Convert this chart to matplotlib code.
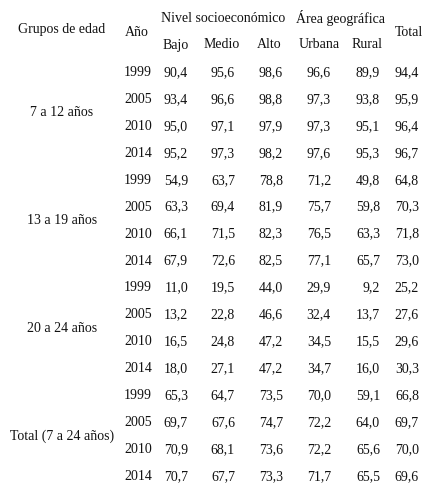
import matplotlib
matplotlib.use("Agg")
import matplotlib.pyplot as plt

groups = ["7 a 12 años", "13 a 19 años", "20 a 24 años", "Total (7 a 24 años)"]
years = ["1999", "2005", "2010", "2014"]
bajo = ["90,4","93,4","95,0","95,2","54,9","63,3","66,1","67,9","11,0","13,2","16,5","18,0","65,3","69,7","70,9","70,7"]
medio = ["95,6","96,6","97,1","97,3","63,7","69,4","71,5","72,6","19,5","22,8","24,8","27,1","64,7","67,6","68,1","67,7"]
alto = ["98,6","98,8","97,9","98,2","78,8","81,9","82,3","82,5","44,0","46,6","47,2","47,2","73,5","74,7","73,6","73,3"]
urbana = ["96,6","97,3","97,3","97,6","71,2","75,7","76,5","77,1","29,9","32,4","34,5","34,7","70,0","72,2","72,2","71,7"]
rural = ["89,9","93,8","95,1","95,3","49,8","59,8","63,3","65,7","9,2","13,7","15,5","16,0","59,1","64,0","65,6","65,5"]
total = ["94,4","95,9","96,4","96,7","64,8","70,3","71,8","73,0","25,2","27,6","29,6","30,3","66,8","69,7","70,0","69,6"]

W, H = 431, 494
fig = plt.figure(figsize=(W/100, H/100), dpi=100)
FONT = dict(family="Liberation Serif", fontsize=10, color="#111111")

def t(x, y, s, ha="center"):
    fig.text(x/W, 1 - y/H, s, ha=ha, va="center", **FONT)

t(62, 30, "Grupos de edad")
t(137, 32, "Año")
t(223, 18, "Nivel socioeconómico")
t(341, 18, "Área geográfica")
t(409, 32, "Total")
for x, s in [(176, "Bajo"), (222, "Medio"), (269, "Alto"), (319, "Urbana"), (367, "Rural")]:
    t(x, 45, s)

y0, dy = 72.5, 26.93
cols = [(188, bajo), (235, medio), (283, alto), (331, urbana), (380, rural), (419, total)]
for i in range(16):
    y = y0 + i*dy
    t(152, y, years[i % 4], ha="right")
    for x, vals in cols:
        t(x, y, vals[i], ha="right")
for g, name in enumerate(groups):
    t(62, y0 + (g*4 + 1.5)*dy, name)

fig.savefig("out.png", dpi=100, facecolor="white")
